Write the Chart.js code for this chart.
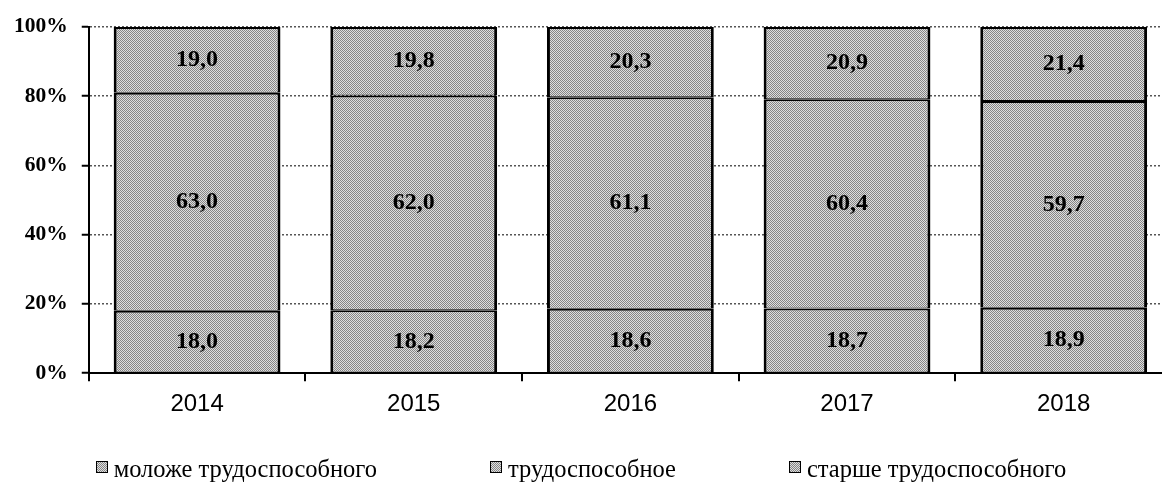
<!DOCTYPE html>
<html><head><meta charset="utf-8">
<script src="https://cdn.jsdelivr.net/npm/chart.js@4.4.1/dist/chart.umd.min.js"></script>
<style>
html,body{margin:0;padding:0;background:#fff;overflow:hidden;width:1162px;height:482px;}
#wrap{position:relative;width:1180px;height:482px;}
canvas{display:block;}
#legend{position:absolute;left:0;top:457px;width:1162px;height:24px;display:flex;justify-content:center;gap:113px;}
.item{position:relative;height:24px;line-height:24px;font-family:"Liberation Serif",serif;font-size:24.5px;color:#000;white-space:nowrap;padding-left:18px;}
.item i{position:absolute;left:0;top:4px;width:10px;height:10px;border:1px solid #000;
  background:repeating-conic-gradient(#858585 0 25%,#dedede 0 50%) 0 0/2px 2px;}
</style></head>
<body>
<div id="wrap"><canvas id="c" width="1180" height="482"></canvas><div id="legend"></div></div>
<script>
const categories = ['2014', '2015', '2016', '2017', '2018'];
const youngerValues = [18.0, 18.2, 18.6, 18.7, 18.9];
const workingValues = [63.0, 62.0, 61.1, 60.4, 59.7];
const olderValues = [19.0, 19.8, 20.3, 20.9, 21.4];
const seriesNames = ['моложе трудоспособного', 'трудоспособное', 'старше трудоспособного'];
const yTickValues = [0, 20, 40, 60, 80, 100];

const canvas = document.getElementById('c');
const mainCtx = canvas.getContext('2d');
function makePattern(dark, light) {
  const c = document.createElement('canvas');
  c.width = 2; c.height = 2;
  const g = c.getContext('2d');
  g.fillStyle = light; g.fillRect(0, 0, 2, 2);
  g.fillStyle = dark; g.fillRect(0, 0, 1, 1); g.fillRect(1, 1, 1, 1);
  return mainCtx.createPattern(c, 'repeat');
}
const fill = makePattern('#858585', '#dedede');

const valueLabels = {
  id: 'valueLabels',
  afterDatasetsDraw(chart) {
    const ctx = chart.ctx;
    ctx.save();
    ctx.font = 'bold 24px "Liberation Serif"';
    ctx.fillStyle = '#000';
    ctx.textAlign = 'center';
    ctx.textBaseline = 'middle';
    chart.data.datasets.forEach((ds, i) => {
      chart.getDatasetMeta(i).data.forEach((bar, j) => {
        const p = bar.getProps(['x', 'y', 'base'], true);
        ctx.fillText(ds.data[j].toFixed(1).replace('.', ','), p.x, (p.y + p.base) / 2);
      });
    });
    ctx.restore();
  }
};

const border = {top: 2, bottom: 1, left: 3, right: 3};
function ds(label, data) {
  return {label, data, backgroundColor: fill, borderColor: '#000', borderWidth: border,
          borderSkipped: false, barPercentage: 0.77, categoryPercentage: 1.0};
}

const chart = new Chart(canvas, {
  type: 'bar',
  data: {
    labels: categories,
    datasets: [ds(seriesNames[0], youngerValues), ds(seriesNames[1], workingValues), ds(seriesNames[2], olderValues)]
  },
  options: {
    responsive: false,
    animation: false,
    devicePixelRatio: 1,
    layout: {padding: {left: 0, right: 8, top: 14, bottom: 54}},
    plugins: {legend: {display: false}, tooltip: {enabled: false}},
    scales: {
      x: {
        stacked: true,
        offset: true,
        grid: {offset: true, drawOnChartArea: false, tickLength: 8, tickColor: '#000', tickWidth: 2, lineWidth: 2},
        border: {color: '#000', width: 2},
        ticks: {color: '#000', font: {family: 'Liberation Sans', size: 24}, padding: 9}
      },
      y: {
        stacked: true,
        min: 0, max: 100,
        afterBuildTicks: axis => { axis.ticks = yTickValues.map(v => ({value: v})); },
        grid: {color: '#555', lineWidth: 1.5, tickColor: '#000', tickWidth: 2, tickLength: 7, tickBorderDash: []},
        border: {color: '#000', width: 2, dash: [2, 2]},
        ticks: {color: '#000', font: {family: 'Liberation Serif', size: 21.5, weight: 'bold'}, padding: 14,
                callback: v => v + '%'}
      }
    }
  },
  plugins: [valueLabels]
});

const legend = document.getElementById('legend');
chart.data.datasets.forEach(d => {
  const el = document.createElement('div');
  el.className = 'item';
  el.innerHTML = '<i></i>';
  el.appendChild(document.createTextNode(d.label));
  legend.appendChild(el);
});
</script>
</body></html>
